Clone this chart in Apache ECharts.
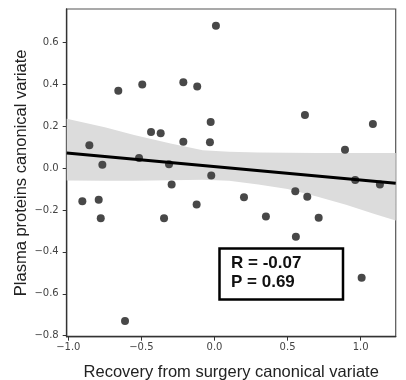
<!DOCTYPE html>
<html>
<head>
<meta charset="utf-8">
<script src="https://cdn.jsdelivr.net/npm/echarts@6/dist/echarts.min.js"></script>
<style>html,body{margin:0;padding:0;background:#fff}#c{width:406px;height:380px}</style>
</head>
<body>
<div id="c"></div>
<script>
// Scatter points: [recovery variate, plasma protein variate]
const pointsX = [0.01,-0.658,-0.494,-0.213,-0.118,-0.026,-0.213,-0.031,-0.022,-0.293,-0.122,0.202,0.352,-0.311,-0.856,-0.767,-0.516,-0.434,-0.368,-0.904,-0.792,-0.778,-0.345,-0.612,0.619,1.084,0.893,0.963,1.132,0.553,0.635,0.713,0.557,1.007];
const pointsY = [0.68,0.37,0.40,0.41,0.39,0.22,0.126,0.124,-0.035,-0.078,-0.174,-0.139,-0.231,0.018,0.109,0.016,0.048,0.172,0.167,-0.158,-0.151,-0.239,-0.239,-0.730,0.254,0.211,0.088,-0.057,-0.078,-0.110,-0.137,-0.237,-0.328,-0.523];
// Regression line endpoints
const lineX = [-1.011, 1.24];
const lineY = [0.072, -0.072];
// Confidence band
const bandX = [-1.011, -0.75, -0.55, -0.3, -0.08, 0.1, 0.3, 0.5, 0.7, 0.9, 1.1, 1.24];
const bandUpper = [0.236, 0.195, 0.158, 0.118, 0.086, 0.078, 0.075, 0.073, 0.072, 0.072, 0.072, 0.072];
const bandLower = [-0.059, -0.06, -0.06, -0.058, -0.055, -0.06, -0.078, -0.10, -0.135, -0.175, -0.22, -0.25];
const xTicks = [-1.0, -0.5, 0.0, 0.5, 1.0];
const yTicks = [-0.8, -0.6, -0.4, -0.2, 0.0, 0.2, 0.4, 0.6];
const statText = ['R = -0.07', 'P = 0.69'];

const fmt = v => v.toFixed(1).replace('-', '\u2212');
const chart = echarts.init(document.getElementById('c'), null, {renderer: 'canvas'});
const bandPoly = bandX.map((x, i) => [x, bandUpper[i]]).concat(bandX.slice().reverse().map((x, i) => [x, bandLower[bandX.length - 1 - i]]));

chart.setOption({
  animation: false,
  grid: {left: 66.7, right: 10.3, top: 9, bottom: 43.3, show: true, borderColor: '#555', borderWidth: 1.2, outerBoundsMode: 'none', containLabel: false},
  xAxis: {
    type: 'value', min: -1.011, max: 1.24,
    name: 'Recovery from surgery canonical variate', nameLocation: 'middle', nameGap: 27, nameMoveOverlap: false,
    nameTextStyle: {fontFamily: 'Liberation Sans', fontSize: 16.5, color: '#222'},
    axisLine: {show: true, onZero: false, lineStyle: {color: '#333', width: 1.3}},
    axisTick: {show: true, inside: false, length: 4, lineStyle: {color: '#333'}, customValues: xTicks},
    axisLabel: {customValues: xTicks, formatter: fmt, fontFamily: 'DejaVu Sans', fontSize: 10, color: '#444', margin: 6},
    splitLine: {show: false}
  },
  yAxis: {
    type: 'value', min: -0.805, max: 0.76,
    name: 'Plasma proteins canonical variate', nameLocation: 'middle', nameGap: 37, nameMoveOverlap: false,
    nameTextStyle: {fontFamily: 'Liberation Sans', fontSize: 16.5, color: '#222'},
    axisLine: {show: true, onZero: false, lineStyle: {color: '#333', width: 1.3}},
    axisTick: {show: true, inside: false, length: 4, lineStyle: {color: '#333'}, customValues: yTicks},
    axisLabel: {customValues: yTicks, formatter: fmt, fontFamily: 'DejaVu Sans', fontSize: 10, color: '#444', margin: 8},
    splitLine: {show: false}
  },
  series: [
    {
      type: 'custom', z: 1, silent: true,
      data: [0],
      renderItem: (params, api) => ({
        type: 'polygon',
        shape: {points: bandPoly.map(p => api.coord(p))},
        style: {fill: '#dcdcdc'}
      })
    },
    {
      type: 'line', z: 3, symbol: 'none', silent: true,
      data: lineX.map((x, i) => [x, lineY[i]]),
      lineStyle: {color: '#000', width: 3}
    },
    {
      type: 'scatter', z: 2, symbolSize: 8,
      data: pointsX.map((x, i) => [x, pointsY[i]]),
      itemStyle: {color: '#484848', opacity: 1}
    }
  ],
  graphic: [
    {type: 'rect', shape: {x: 219.5, y: 248.5, width: 123.5, height: 51}, style: {fill: '#fff', stroke: '#000', lineWidth: 2.5}, z: 10},
    {type: 'text', left: 231, top: 254, z: 11, style: {text: statText.join('\n'), fontFamily: 'Liberation Sans', fontWeight: 'bold', fontSize: 17, lineHeight: 19, fill: '#111'}}
  ]
});
</script>
</body>
</html>
